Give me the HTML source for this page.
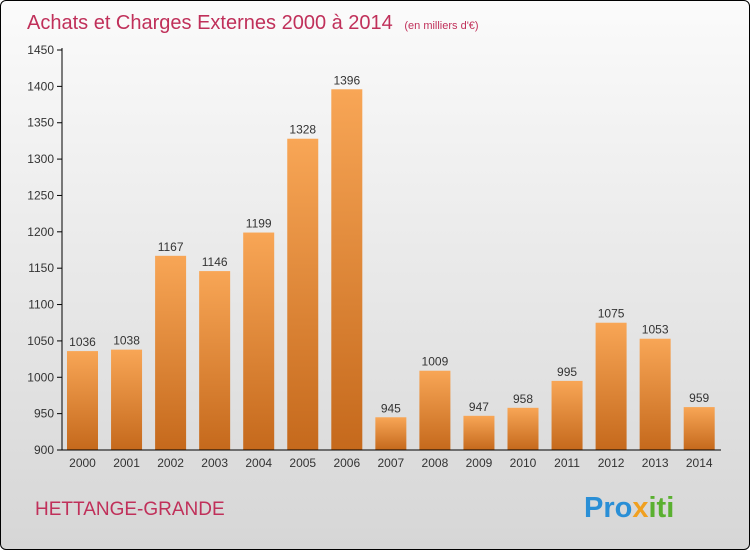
<!DOCTYPE html>
<html><head><meta charset="utf-8"><style>
body{margin:0;background:#fff}
#wrap{position:relative;width:748px;height:548px;border:1px solid #000;border-radius:6px;overflow:hidden;background:linear-gradient(#fbfbfb,#d6d6d6);font-family:"Liberation Sans",sans-serif}
svg{position:absolute;left:0;top:0}
</style></head><body>
<div id="wrap">
<svg id="c" width="748" height="548">
<defs><linearGradient id="g" x1="0" y1="0" x2="0" y2="1"><stop offset="0" stop-color="#f8a656"/><stop offset="1" stop-color="#c5691c"/></linearGradient></defs>
<text x="26" y="28" font-size="20" fill="#c0305a">Achats et Charges Externes 2000 à 2014 <tspan font-size="11" dx="6">(en milliers d'€)</tspan></text>
<text x="34" y="514" font-size="19" fill="#c0305a">HETTANGE-GRANDE</text>
<text x="583" y="516" font-size="29" font-weight="bold"><tspan fill="#2a8fd6">Pro</tspan><tspan fill="#f0a020">x</tspan><tspan fill="#5ab030">iti</tspan></text>
</svg>
</div>
<script>
const years=["2000","2001","2002","2003","2004","2005","2006","2007","2008","2009","2010","2011","2012","2013","2014"];
const values=[1036,1038,1167,1146,1199,1328,1396,945,1009,947,958,995,1075,1053,959];
const yTicks=[900,950,1000,1050,1100,1150,1200,1250,1300,1350,1400,1450];
const svg=document.getElementById('c');const NS="http://www.w3.org/2000/svg";
const y=v=>449-(v-900)*400/550;
const x=i=>81+i*44.05;
function mk(t,a,p){const e=document.createElementNS(NS,t);for(const k in a)e.setAttribute(k,a[k]);(p||svg).appendChild(e);return e;}
yTicks.forEach(t=>{
 const l=mk('line',{x1:56,x2:61,y1:y(t),y2:y(t),stroke:'#000'});
 
 
 const tx=mk('text',{x:53,y:y(t)+4,'text-anchor':'end','font-size':12,fill:'#333'});tx.textContent=t;
 
 
});
values.forEach((v,i)=>{
 const r=mk('rect',{x:x(i)-15,y:y(v),width:31,height:y(900)-y(v),fill:'url(#g)'});
 
 
 const t=mk('text',{x:x(i)+0.5,y:y(v)-5,'text-anchor':'middle','font-size':12,fill:'#333'});t.textContent=v;
 
 
 const yl=mk('text',{x:x(i)+0.5,y:466,'text-anchor':'middle','font-size':12,fill:'#333'});yl.textContent=years[i];
 
 
});
const ya=mk('line',{x1:61,x2:61,y1:y(1450)-2,y2:y(900),stroke:'#000'});


const xa=mk('line',{x1:61,x2:720,y1:y(900),y2:y(900),stroke:'#000'});


</script>
</body></html>
